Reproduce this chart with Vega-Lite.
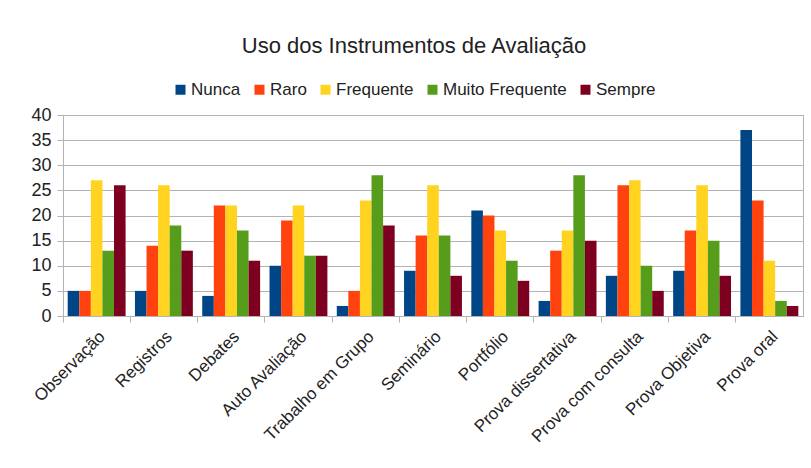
{
  "$schema": "https://vega.github.io/schema/vega-lite/v6.json",
  "width": 740,
  "height": 201,
  "autosize": {"type": "none"},
  "padding": {"left": 63, "top": 115, "right": 8, "bottom": 152},
  "background": "white",
  "title": {
    "text": "Uso dos Instrumentos de Avaliação",
    "font": "Liberation Sans",
    "fontSize": 22,
    "fontWeight": "normal",
    "color": "#222222",
    "anchor": "middle",
    "frame": "group",
    "dx": -19,
    "offset": 23
  },
  "data": {
    "values": [
      {"Instrumento": "Observação", "Categoria": "Nunca", "Valor": 5},
      {"Instrumento": "Observação", "Categoria": "Raro", "Valor": 5},
      {"Instrumento": "Observação", "Categoria": "Frequente", "Valor": 27},
      {"Instrumento": "Observação", "Categoria": "Muito Frequente", "Valor": 13},
      {"Instrumento": "Observação", "Categoria": "Sempre", "Valor": 26},
      {"Instrumento": "Registros", "Categoria": "Nunca", "Valor": 5},
      {"Instrumento": "Registros", "Categoria": "Raro", "Valor": 14},
      {"Instrumento": "Registros", "Categoria": "Frequente", "Valor": 26},
      {"Instrumento": "Registros", "Categoria": "Muito Frequente", "Valor": 18},
      {"Instrumento": "Registros", "Categoria": "Sempre", "Valor": 13},
      {"Instrumento": "Debates", "Categoria": "Nunca", "Valor": 4},
      {"Instrumento": "Debates", "Categoria": "Raro", "Valor": 22},
      {"Instrumento": "Debates", "Categoria": "Frequente", "Valor": 22},
      {"Instrumento": "Debates", "Categoria": "Muito Frequente", "Valor": 17},
      {"Instrumento": "Debates", "Categoria": "Sempre", "Valor": 11},
      {"Instrumento": "Auto Avaliação", "Categoria": "Nunca", "Valor": 10},
      {"Instrumento": "Auto Avaliação", "Categoria": "Raro", "Valor": 19},
      {"Instrumento": "Auto Avaliação", "Categoria": "Frequente", "Valor": 22},
      {"Instrumento": "Auto Avaliação", "Categoria": "Muito Frequente", "Valor": 12},
      {"Instrumento": "Auto Avaliação", "Categoria": "Sempre", "Valor": 12},
      {"Instrumento": "Trabalho em Grupo", "Categoria": "Nunca", "Valor": 2},
      {"Instrumento": "Trabalho em Grupo", "Categoria": "Raro", "Valor": 5},
      {"Instrumento": "Trabalho em Grupo", "Categoria": "Frequente", "Valor": 23},
      {"Instrumento": "Trabalho em Grupo", "Categoria": "Muito Frequente", "Valor": 28},
      {"Instrumento": "Trabalho em Grupo", "Categoria": "Sempre", "Valor": 18},
      {"Instrumento": "Seminário", "Categoria": "Nunca", "Valor": 9},
      {"Instrumento": "Seminário", "Categoria": "Raro", "Valor": 16},
      {"Instrumento": "Seminário", "Categoria": "Frequente", "Valor": 26},
      {"Instrumento": "Seminário", "Categoria": "Muito Frequente", "Valor": 16},
      {"Instrumento": "Seminário", "Categoria": "Sempre", "Valor": 8},
      {"Instrumento": "Portfólio", "Categoria": "Nunca", "Valor": 21},
      {"Instrumento": "Portfólio", "Categoria": "Raro", "Valor": 20},
      {"Instrumento": "Portfólio", "Categoria": "Frequente", "Valor": 17},
      {"Instrumento": "Portfólio", "Categoria": "Muito Frequente", "Valor": 11},
      {"Instrumento": "Portfólio", "Categoria": "Sempre", "Valor": 7},
      {"Instrumento": "Prova dissertativa", "Categoria": "Nunca", "Valor": 3},
      {"Instrumento": "Prova dissertativa", "Categoria": "Raro", "Valor": 13},
      {"Instrumento": "Prova dissertativa", "Categoria": "Frequente", "Valor": 17},
      {"Instrumento": "Prova dissertativa", "Categoria": "Muito Frequente", "Valor": 28},
      {"Instrumento": "Prova dissertativa", "Categoria": "Sempre", "Valor": 15},
      {"Instrumento": "Prova com consulta", "Categoria": "Nunca", "Valor": 8},
      {"Instrumento": "Prova com consulta", "Categoria": "Raro", "Valor": 26},
      {"Instrumento": "Prova com consulta", "Categoria": "Frequente", "Valor": 27},
      {"Instrumento": "Prova com consulta", "Categoria": "Muito Frequente", "Valor": 10},
      {"Instrumento": "Prova com consulta", "Categoria": "Sempre", "Valor": 5},
      {"Instrumento": "Prova Objetiva", "Categoria": "Nunca", "Valor": 9},
      {"Instrumento": "Prova Objetiva", "Categoria": "Raro", "Valor": 17},
      {"Instrumento": "Prova Objetiva", "Categoria": "Frequente", "Valor": 26},
      {"Instrumento": "Prova Objetiva", "Categoria": "Muito Frequente", "Valor": 15},
      {"Instrumento": "Prova Objetiva", "Categoria": "Sempre", "Valor": 8},
      {"Instrumento": "Prova oral", "Categoria": "Nunca", "Valor": 37},
      {"Instrumento": "Prova oral", "Categoria": "Raro", "Valor": 23},
      {"Instrumento": "Prova oral", "Categoria": "Frequente", "Valor": 11},
      {"Instrumento": "Prova oral", "Categoria": "Muito Frequente", "Valor": 3},
      {"Instrumento": "Prova oral", "Categoria": "Sempre", "Valor": 2}
    ]
  },
  "mark": {"type": "bar"},
  "encoding": {
    "x": {
      "field": "Instrumento",
      "type": "nominal",
      "sort": null,
      "scale": {"paddingInner": 0, "paddingOuter": 0},
      "axis": {
        "title": null,
        "bandPosition": 0,
        "labelOffset": 0,
        "labelAngle": -45,
        "labelAlign": "right",
        "labelBaseline": "top",
        "labelFont": "Liberation Sans",
        "labelFontSize": 17,
        "labelColor": "#222222",
        "labelPadding": 6,
        "tickColor": "#b3b3b3",
        "tickSize": 6,
        "domainColor": "#b3b3b3",
        "grid": false
      }
    },
    "xOffset": {
      "field": "Categoria",
      "type": "nominal",
      "sort": ["Nunca", "Raro", "Frequente", "Muito Frequente", "Sempre"],
      "scale": {"paddingInner": 0, "paddingOuter": 0.405}
    },
    "y": {
      "field": "Valor",
      "type": "quantitative",
      "scale": {"domain": [0, 40]},
      "axis": {
        "title": null,
        "values": [0, 5, 10, 15, 20, 25, 30, 35, 40],
        "labelFont": "Liberation Sans",
        "labelFontSize": 18,
        "labelColor": "#222222",
        "labelPadding": 6,
        "tickColor": "#b3b3b3",
        "tickSize": 6,
        "domainColor": "#b3b3b3",
        "gridColor": "#b3b3b3",
        "gridWidth": 1
      }
    },
    "color": {
      "field": "Categoria",
      "type": "nominal",
      "sort": ["Nunca", "Raro", "Frequente", "Muito Frequente", "Sempre"],
      "scale": {
        "domain": ["Nunca", "Raro", "Frequente", "Muito Frequente", "Sempre"],
        "range": ["#004586", "#ff420e", "#ffd320", "#579d1c", "#7e0021"]
      },
      "legend": {
        "title": null,
        "orient": "none",
        "direction": "horizontal",
        "legendX": 109,
        "legendY": -34,
        "symbolType": "square",
        "symbolSize": 100,
        "symbolStrokeWidth": 0,
        "labelFont": "Liberation Sans",
        "labelFontSize": 17,
        "labelColor": "#222222",
        "labelOffset": 2,
        "columnPadding": 10
      }
    }
  },
  "config": {
    "view": {"stroke": "#b3b3b3"}
  }
}
